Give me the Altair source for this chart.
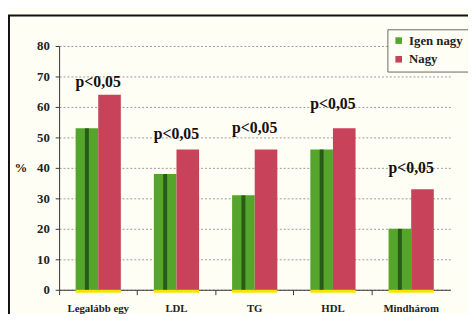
import altair as alt
import pandas as pd

categories = ["Legalább egy", "LDL", "TG", "HDL", "Mindhárom"]
series = ["Igen nagy", "Nagy"]
igen_nagy = [53, 38, 31, 46, 20]
nagy = [64, 46, 46, 53, 33]
p_labels = ["p<0,05", "p<0,05", "p<0,05", "p<0,05", "p<0,05"]
p_label_y = [68, 51, 53, 61, 40]
y_ticks = [0, 10, 20, 30, 40, 50, 60, 70, 80]

rows = []
for c, a, b in zip(categories, igen_nagy, nagy):
    rows.append({"cat": c, "series": series[0], "val": a})
    rows.append({"cat": c, "series": series[1], "val": b})
df = pd.DataFrame(rows)
lab = pd.DataFrame({"cat": categories, "txt": p_labels, "y": p_label_y})

W, H = 398, 248
FONT = "Liberation Serif"

xscale = alt.Scale(domain=categories, paddingInner=0, paddingOuter=0)
offscale = alt.Scale(domain=series, paddingInner=0, paddingOuter=0.73)
yscale = alt.Scale(domain=[0, 80], nice=False)

xaxis = alt.Axis(bandPosition=0, labelAngle=0,
                 labelFont=FONT, labelFontWeight="bold", labelFontSize=11,
                 labelColor="#222", domainColor="#333", tickColor="#333",
                 tickSize=5, labelPadding=8)
yaxis = alt.Axis(values=y_ticks, tickCount=12, labelOverlap=False, grid=True,
                 gridDash=[2, 2], gridColor="#999", labelFont=FONT, labelFontWeight="bold",
                 labelFontSize=13, labelColor="#222", domainColor="#333",
                 tickColor="#333", tickSize=4, labelPadding=6, titleAngle=0, titleX=-33,
                 titleY=H / 2, titleAlign="right", titleBaseline="middle",
                 titleFont=FONT, titleFontWeight="bold", titleFontSize=13,
                 titleColor="#222")

frame = alt.Chart(lab).mark_rect(fill=None, stroke="#111", strokeWidth=2).encode(
    x=alt.value(-51), x2=alt.value(W + 40), y=alt.value(-31), y2=alt.value(H + 40)
).transform_filter("datum.cat == 'LDL'")

base_strip = alt.Chart(df).mark_bar(color="#f2e600").encode(
    x=alt.X("cat:N", scale=xscale, sort=categories, title=None, axis=xaxis),
    xOffset=alt.XOffset("series:N", sort=series, scale=offscale),
    y=alt.datum(0, scale=yscale),
    y2=alt.value(H + 3),
)

bars = alt.Chart(df).mark_bar(stroke=None).encode(
    x=alt.X("cat:N", scale=xscale, sort=categories, title=None, axis=xaxis),
    xOffset=alt.XOffset("series:N", sort=series, scale=offscale),
    y=alt.Y("val:Q", scale=yscale, title="%", axis=yaxis),
    color=alt.Color("series:N", sort=series,
                    scale=alt.Scale(domain=series, range=["#55a42b", "#c8425a"]),
                    legend=alt.Legend(title=None, orient="none", legendX=W - 64, legendY=-17,
                                      labelFont=FONT, labelFontWeight="bold",
                                      labelFontSize=13, labelColor="#222",
                                      symbolType="square", symbolSize=45,
                                      strokeColor="#666", fillColor="#fffef5",
                                      padding=5, rowPadding=5, symbolStrokeWidth=0,
                                      labelOffset=4)),
)

shade = alt.Chart(df).mark_bar(size=4, color="#1d4a12").encode(
    x=alt.X("cat:N", scale=xscale, sort=categories, title=None, axis=xaxis),
    xOffset=alt.XOffset("series:N", sort=series, scale=offscale),
    y=alt.Y("val:Q", scale=yscale, title="%", axis=yaxis),
    opacity=alt.condition("datum.series == 'Igen nagy'", alt.value(0.8), alt.value(0)),
)

texts = alt.Chart(lab).mark_text(font=FONT, fontWeight="bold", fontSize=16,
                                 color="#111", baseline="middle").encode(
    x=alt.X("cat:N", scale=xscale, sort=categories, title=None, axis=xaxis),
    y=alt.Y("y:Q", scale=yscale, title="%", axis=yaxis),
    text="txt:N",
)

chart = alt.layer(frame, base_strip, bars, shade, texts).properties(
    width=W, height=H,
    padding={"left": 52, "top": 36, "right": 18, "bottom": 22},
    autosize=alt.AutoSizeParams(type="none"),
    background="#fffef5",
).configure_view(stroke=None)

chart.save("out.html", embed_options={"renderer": "svg", "actions": False})
